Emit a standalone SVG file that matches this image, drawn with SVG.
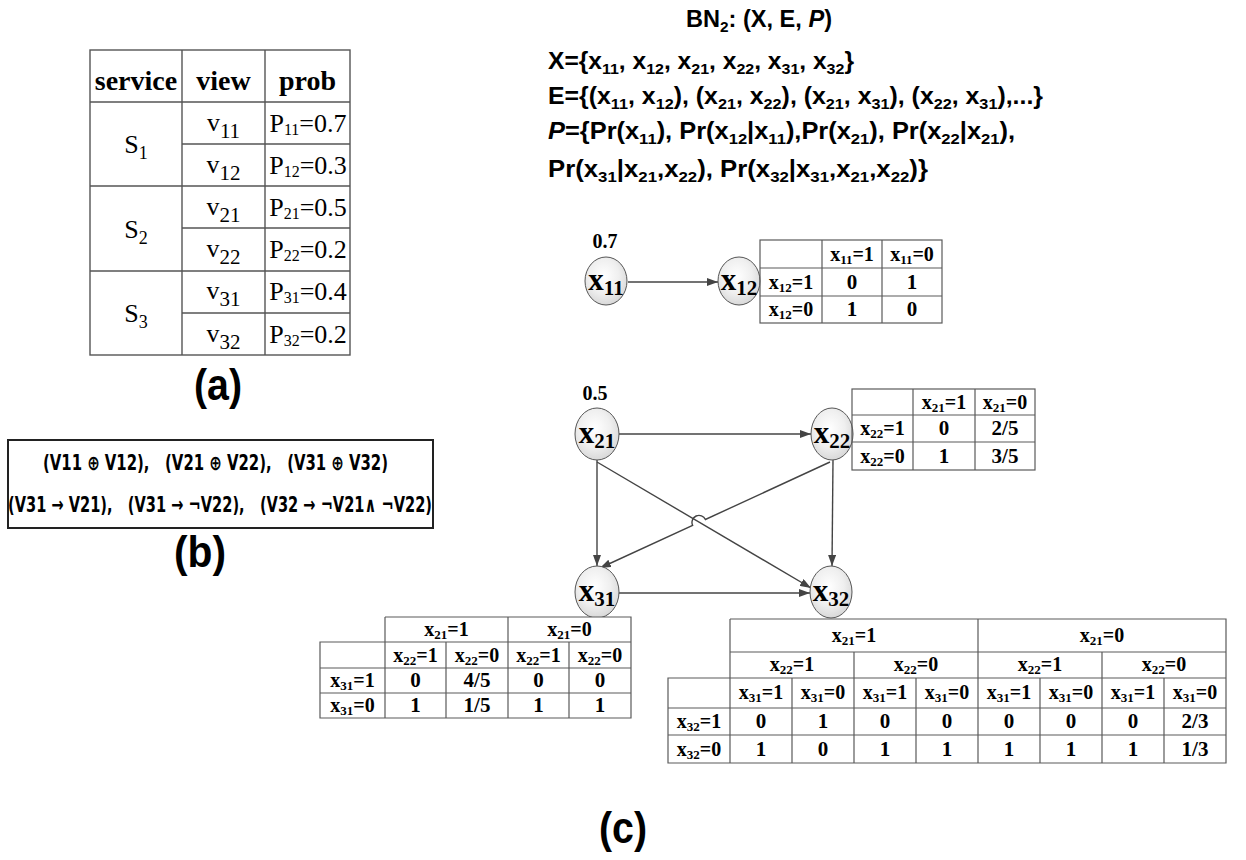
<svg xmlns="http://www.w3.org/2000/svg" width="1246" height="860" viewBox="0 0 1246 860">
  <defs>
    <radialGradient id="ng" cx="0.45" cy="0.4" r="0.65">
      <stop offset="0" stop-color="#ffffff"/>
      <stop offset="0.55" stop-color="#efefef"/>
      <stop offset="1" stop-color="#d4d4d4"/>
    </radialGradient>
    <marker id="arr" viewBox="0 0 11 8" refX="11" refY="4" markerWidth="11" markerHeight="8" markerUnits="userSpaceOnUse" orient="auto">
      <path d="M0,0 L11,4 L0,8 z" fill="#444"/>
    </marker>
    <style>
      .sans { font-family: "Liberation Sans", Arial, "DejaVu Sans", sans-serif; font-weight: bold; fill: #000; }
      .serif { font-family: "Liberation Serif", "Times New Roman", serif; fill: #000; }
      .logic { font-family: "DejaVu Sans", sans-serif; font-weight: bold; font-size: 21px; fill: #000; }
      .hd { font-size: 28px; font-weight: bold; text-anchor: middle; }
      .cell { font-size: 26px; text-anchor: middle; }
      .tb { font-family: "Liberation Serif", "Times New Roman", serif; font-weight: bold; font-size: 20px; text-anchor: middle; fill: #000; }
      .tb .s { font-size: 13px; }
      .num { font-size: 21px; }
      .grid { stroke: #5a5a5a; stroke-width: 1.2; fill: none; }
      .gridA { stroke: #555; stroke-width: 1.4; fill: none; }
      .edge { stroke: #444; stroke-width: 1.4; fill: none; marker-end: url(#arr); }
      .node ellipse { fill: url(#ng); stroke: #555; stroke-width: 1; }
      .nl { font-family: "Liberation Serif", "Times New Roman", serif; font-weight: bold; font-size: 31px; text-anchor: middle; fill: #000; }
      .nl .s { font-size: 21px; }
      .pr { font-family: "Liberation Serif", "Times New Roman", serif; font-weight: bold; font-size: 20px; text-anchor: middle; }
      .lab { font-size: 44px; text-anchor: middle; }
      .top { font-size: 23px; }
      .top .s { font-size: 15px; }
    </style>
  </defs>

  <!-- (a) service / view / probability table -->
  <g id="table-a">
    <rect class="gridA" x="90" y="50" width="260" height="305"/>
    <line class="gridA" x1="90" y1="102" x2="350" y2="102"/>
    <line class="gridA" x1="182" y1="50" x2="182" y2="355"/>
    <line class="gridA" x1="265" y1="50" x2="265" y2="355"/>
    <line class="gridA" x1="90" y1="186" x2="350" y2="186"/>
    <line class="gridA" x1="90" y1="271" x2="350" y2="271"/>
    <line class="gridA" x1="182" y1="144" x2="350" y2="144"/>
    <line class="gridA" x1="182" y1="228" x2="350" y2="228"/>
    <line class="gridA" x1="182" y1="313" x2="350" y2="313"/>
    <text class="serif hd" x="136" y="90">service</text>
    <text class="serif hd" x="223.5" y="90">view</text>
    <text class="serif hd" x="307.5" y="90">prob</text>
    <text class="serif cell" x="136" y="153">S<tspan font-size="18" dy="6">1</tspan></text>
    <text class="serif cell" x="136" y="238">S<tspan font-size="18" dy="6">2</tspan></text>
    <text class="serif cell" x="136" y="322">S<tspan font-size="18" dy="6">3</tspan></text>
    <text class="serif cell" x="223.5" y="131" font-size="29">v<tspan font-size="21" dy="7">11</tspan></text>
    <text class="serif cell" x="223.5" y="173" font-size="29">v<tspan font-size="21" dy="7">12</tspan></text>
    <text class="serif cell" x="223.5" y="215" font-size="29">v<tspan font-size="21" dy="7">21</tspan></text>
    <text class="serif cell" x="223.5" y="257" font-size="29">v<tspan font-size="21" dy="7">22</tspan></text>
    <text class="serif cell" x="223.5" y="299" font-size="29">v<tspan font-size="21" dy="7">31</tspan></text>
    <text class="serif cell" x="223.5" y="342" font-size="29">v<tspan font-size="21" dy="7">32</tspan></text>
    <text class="serif cell" x="308" y="132">P<tspan font-size="16" dy="3">11</tspan><tspan dy="-3">=0.7</tspan></text>
    <text class="serif cell" x="308" y="174">P<tspan font-size="16" dy="3">12</tspan><tspan dy="-3">=0.3</tspan></text>
    <text class="serif cell" x="308" y="216">P<tspan font-size="16" dy="3">21</tspan><tspan dy="-3">=0.5</tspan></text>
    <text class="serif cell" x="308" y="258">P<tspan font-size="16" dy="3">22</tspan><tspan dy="-3">=0.2</tspan></text>
    <text class="serif cell" x="308" y="300">P<tspan font-size="16" dy="3">31</tspan><tspan dy="-3">=0.4</tspan></text>
    <text class="serif cell" x="308" y="343">P<tspan font-size="16" dy="3">32</tspan><tspan dy="-3">=0.2</tspan></text>
  </g>
  <text class="sans lab" x="218" y="400" textLength="48" lengthAdjust="spacingAndGlyphs">(a)</text>

  <!-- (b) constraints box -->
  <g id="constraints-b">
    <rect x="8" y="440" width="425" height="88" fill="none" stroke="#222" stroke-width="2"/>
    <text class="logic" x="43" y="470" xml:space="preserve" textLength="345" lengthAdjust="spacingAndGlyphs">(V11 ⊕ V12),   (V21 ⊕ V22),   (V31 ⊕ V32)</text>
    <text class="logic" x="8" y="512" xml:space="preserve" textLength="424" lengthAdjust="spacingAndGlyphs">(V31 → V21),   (V31 → ¬V22),   (V32 → ¬V21∧ ¬V22)</text>
  </g>
  <text class="sans lab" x="200" y="567" textLength="52" lengthAdjust="spacingAndGlyphs">(b)</text>

  <!-- Bayesian network definition -->
  <g id="bn-definition" class="sans top">
    <text x="686" y="27" textLength="146" lengthAdjust="spacingAndGlyphs">BN<tspan class="s" dy="5">2</tspan><tspan dy="-5">: (X, E, </tspan><tspan font-style="italic">P</tspan>)</text>
    <text x="548" y="69" textLength="306" lengthAdjust="spacingAndGlyphs">X={x<tspan class="s" dy="5">11</tspan><tspan dy="-5">, x</tspan><tspan class="s" dy="5">12</tspan><tspan dy="-5">, x</tspan><tspan class="s" dy="5">21</tspan><tspan dy="-5">, x</tspan><tspan class="s" dy="5">22</tspan><tspan dy="-5">, x</tspan><tspan class="s" dy="5">31</tspan><tspan dy="-5">, x</tspan><tspan class="s" dy="5">32</tspan><tspan dy="-5">}</tspan></text>
    <text x="548" y="104" textLength="495" lengthAdjust="spacingAndGlyphs">E={(x<tspan class="s" dy="5">11</tspan><tspan dy="-5">, x</tspan><tspan class="s" dy="5">12</tspan><tspan dy="-5">), (x</tspan><tspan class="s" dy="5">21</tspan><tspan dy="-5">, x</tspan><tspan class="s" dy="5">22</tspan><tspan dy="-5">), (x</tspan><tspan class="s" dy="5">21</tspan><tspan dy="-5">, x</tspan><tspan class="s" dy="5">31</tspan><tspan dy="-5">), (x</tspan><tspan class="s" dy="5">22</tspan><tspan dy="-5">, x</tspan><tspan class="s" dy="5">31</tspan><tspan dy="-5">),...}</tspan></text>
    <text x="548" y="139" textLength="467" lengthAdjust="spacingAndGlyphs"><tspan font-style="italic">P</tspan>={Pr(x<tspan class="s" dy="5">11</tspan><tspan dy="-5">), Pr(x</tspan><tspan class="s" dy="5">12</tspan><tspan dy="-5">|x</tspan><tspan class="s" dy="5">11</tspan><tspan dy="-5">),Pr(x</tspan><tspan class="s" dy="5">21</tspan><tspan dy="-5">), Pr(x</tspan><tspan class="s" dy="5">22</tspan><tspan dy="-5">|x</tspan><tspan class="s" dy="5">21</tspan><tspan dy="-5">),</tspan></text>
    <text x="548" y="177" textLength="380" lengthAdjust="spacingAndGlyphs">Pr(x<tspan class="s" dy="5">31</tspan><tspan dy="-5">|x</tspan><tspan class="s" dy="5">21</tspan><tspan dy="-5">,x</tspan><tspan class="s" dy="5">22</tspan><tspan dy="-5">), Pr(x</tspan><tspan class="s" dy="5">32</tspan><tspan dy="-5">|x</tspan><tspan class="s" dy="5">31</tspan><tspan dy="-5">,x</tspan><tspan class="s" dy="5">21</tspan><tspan dy="-5">,x</tspan><tspan class="s" dy="5">22</tspan><tspan dy="-5">)}</tspan></text>
  </g>

  <!-- connectors -->
  <g id="connectors">
    <line class="edge" x1="628" y1="282" x2="718" y2="282"/>
    <line class="edge" x1="619" y1="434" x2="811" y2="434"/>
    <line class="edge" x1="597" y1="460" x2="597" y2="566"/>
    <line class="edge" x1="833" y1="460" x2="832" y2="566"/>
    <line class="edge" x1="597" y1="462" x2="811" y2="588"/>
    <path class="edge" d="M830,462 L705.4,519.5 A7,7 0 0 0 692.6,525.3 L600,568"/>
    <line class="edge" x1="619" y1="593" x2="810" y2="593"/>
  </g>

  <!-- nodes -->
  <g id="node-x11" class="node">
    <ellipse cx="606" cy="281" rx="21" ry="24"/>
    <text class="nl" x="606" y="290">x<tspan class="s" dy="5">11</tspan></text>
    <text class="pr" x="605" y="248">0.7</text>
  </g>
  <g id="node-x12" class="node">
    <ellipse cx="739" cy="281" rx="21" ry="24"/>
    <text class="nl" x="739" y="290">x<tspan class="s" dy="5">12</tspan></text>
  </g>
  <g id="node-x21" class="node">
    <ellipse cx="597" cy="434" rx="22" ry="26"/>
    <text class="nl" x="597" y="443">x<tspan class="s" dy="5">21</tspan></text>
    <text class="pr" x="595" y="400">0.5</text>
  </g>
  <g id="node-x22" class="node">
    <ellipse cx="832" cy="434" rx="21" ry="26"/>
    <text class="nl" x="832" y="443">x<tspan class="s" dy="5">22</tspan></text>
  </g>
  <g id="node-x31" class="node">
    <ellipse cx="597" cy="592" rx="22" ry="26"/>
    <text class="nl" x="597" y="601">x<tspan class="s" dy="5">31</tspan></text>
  </g>
  <g id="node-x32" class="node">
    <ellipse cx="831" cy="592" rx="21" ry="26"/>
    <text class="nl" x="831" y="601">x<tspan class="s" dy="5">32</tspan></text>
  </g>

  <!-- CPT of x12 -->
  <g id="cpt-x12">
    <rect class="grid" x="760" y="240" width="182" height="83" fill="#fff"/>
    <line class="grid" x1="760" y1="268" x2="942" y2="268"/>
    <line class="grid" x1="760" y1="296" x2="942" y2="296"/>
    <line class="grid" x1="822" y1="240" x2="822" y2="323"/>
    <line class="grid" x1="882" y1="240" x2="882" y2="323"/>
    <text class="tb" x="852" y="261">x<tspan class="s" dy="3">11</tspan><tspan dy="-3">=1</tspan></text>
    <text class="tb" x="912" y="261">x<tspan class="s" dy="3">11</tspan><tspan dy="-3">=0</tspan></text>
    <text class="tb" x="791" y="289">x<tspan class="s" dy="3">12</tspan><tspan dy="-3">=1</tspan></text>
    <text class="tb" x="791" y="316">x<tspan class="s" dy="3">12</tspan><tspan dy="-3">=0</tspan></text>
    <text class="tb num" x="852" y="289">0</text>
    <text class="tb num" x="912" y="289">1</text>
    <text class="tb num" x="852" y="316">1</text>
    <text class="tb num" x="912" y="316">0</text>
  </g>

  <!-- CPT of x22 -->
  <g id="cpt-x22">
    <rect class="grid" x="852" y="389" width="183" height="81" fill="#fff"/>
    <line class="grid" x1="852" y1="415" x2="1035" y2="415"/>
    <line class="grid" x1="852" y1="442" x2="1035" y2="442"/>
    <line class="grid" x1="913" y1="389" x2="913" y2="470"/>
    <line class="grid" x1="975" y1="389" x2="975" y2="470"/>
    <text class="tb" x="944" y="409">x<tspan class="s" dy="3">21</tspan><tspan dy="-3">=1</tspan></text>
    <text class="tb" x="1005" y="409">x<tspan class="s" dy="3">21</tspan><tspan dy="-3">=0</tspan></text>
    <text class="tb" x="882.5" y="435">x<tspan class="s" dy="3">22</tspan><tspan dy="-3">=1</tspan></text>
    <text class="tb" x="882.5" y="463">x<tspan class="s" dy="3">22</tspan><tspan dy="-3">=0</tspan></text>
    <text class="tb num" x="944" y="435">0</text>
    <text class="tb num" x="1005" y="435">2/5</text>
    <text class="tb num" x="944" y="463">1</text>
    <text class="tb num" x="1005" y="463">3/5</text>
  </g>

  <!-- CPT of x31 -->
  <g id="cpt-x31">
    <rect x="320" y="617" width="311" height="101" fill="#fff" stroke="none"/>
    <path class="grid" d="M385,617 H631 V718 H320 V642 H631 M320,668 H631 M320,693 H631 M385,617 V718 M446,642 V718 M508,617 V718 M569,642 V718"/>
    <text class="tb" x="446.5" y="636">x<tspan class="s" dy="3">21</tspan><tspan dy="-3">=1</tspan></text>
    <text class="tb" x="569.5" y="636">x<tspan class="s" dy="3">21</tspan><tspan dy="-3">=0</tspan></text>
    <text class="tb" x="415.5" y="662">x<tspan class="s" dy="3">22</tspan><tspan dy="-3">=1</tspan></text>
    <text class="tb" x="477" y="662">x<tspan class="s" dy="3">22</tspan><tspan dy="-3">=0</tspan></text>
    <text class="tb" x="538.5" y="662">x<tspan class="s" dy="3">22</tspan><tspan dy="-3">=1</tspan></text>
    <text class="tb" x="600" y="662">x<tspan class="s" dy="3">22</tspan><tspan dy="-3">=0</tspan></text>
    <text class="tb" x="352.5" y="687">x<tspan class="s" dy="3">31</tspan><tspan dy="-3">=1</tspan></text>
    <text class="tb" x="352.5" y="712">x<tspan class="s" dy="3">31</tspan><tspan dy="-3">=0</tspan></text>
    <text class="tb num" x="415.5" y="687">0</text>
    <text class="tb num" x="477" y="687">4/5</text>
    <text class="tb num" x="538.5" y="687">0</text>
    <text class="tb num" x="600" y="687">0</text>
    <text class="tb num" x="415.5" y="712">1</text>
    <text class="tb num" x="477" y="712">1/5</text>
    <text class="tb num" x="538.5" y="712">1</text>
    <text class="tb num" x="600" y="712">1</text>
  </g>

  <!-- CPT of x32 -->
  <g id="cpt-x32">
    <rect x="668" y="619" width="558" height="144" fill="#fff" stroke="none"/>
    <path class="grid" d="M730,619 H1226 V763 H668 V678 H1226 M730,652 H1226 M668,708 H1226 M668,735 H1226 M730,619 V763 M978,619 V763 M854,652 V763 M1102,652 V763 M792,678 V763 M916,678 V763 M1040,678 V763 M1164,678 V763"/>
    <text class="tb" x="854" y="642">x<tspan class="s" dy="3">21</tspan><tspan dy="-3">=1</tspan></text>
    <text class="tb" x="1102" y="642">x<tspan class="s" dy="3">21</tspan><tspan dy="-3">=0</tspan></text>
    <text class="tb" x="792" y="671">x<tspan class="s" dy="3">22</tspan><tspan dy="-3">=1</tspan></text>
    <text class="tb" x="916" y="671">x<tspan class="s" dy="3">22</tspan><tspan dy="-3">=0</tspan></text>
    <text class="tb" x="1040" y="671">x<tspan class="s" dy="3">22</tspan><tspan dy="-3">=1</tspan></text>
    <text class="tb" x="1164" y="671">x<tspan class="s" dy="3">22</tspan><tspan dy="-3">=0</tspan></text>
    <text class="tb" x="761" y="699">x<tspan class="s" dy="3">31</tspan><tspan dy="-3">=1</tspan></text>
    <text class="tb" x="823" y="699">x<tspan class="s" dy="3">31</tspan><tspan dy="-3">=0</tspan></text>
    <text class="tb" x="885" y="699">x<tspan class="s" dy="3">31</tspan><tspan dy="-3">=1</tspan></text>
    <text class="tb" x="947" y="699">x<tspan class="s" dy="3">31</tspan><tspan dy="-3">=0</tspan></text>
    <text class="tb" x="1009" y="699">x<tspan class="s" dy="3">31</tspan><tspan dy="-3">=1</tspan></text>
    <text class="tb" x="1071" y="699">x<tspan class="s" dy="3">31</tspan><tspan dy="-3">=0</tspan></text>
    <text class="tb" x="1133" y="699">x<tspan class="s" dy="3">31</tspan><tspan dy="-3">=1</tspan></text>
    <text class="tb" x="1195" y="699">x<tspan class="s" dy="3">31</tspan><tspan dy="-3">=0</tspan></text>
    <text class="tb" x="699" y="728">x<tspan class="s" dy="3">32</tspan><tspan dy="-3">=1</tspan></text>
    <text class="tb" x="699" y="756">x<tspan class="s" dy="3">32</tspan><tspan dy="-3">=0</tspan></text>
    <g class="tb num">
      <text x="761" y="728">0</text><text x="823" y="728">1</text><text x="885" y="728">0</text><text x="947" y="728">0</text>
      <text x="1009" y="728">0</text><text x="1071" y="728">0</text><text x="1133" y="728">0</text><text x="1195" y="728">2/3</text>
      <text x="761" y="756">1</text><text x="823" y="756">0</text><text x="885" y="756">1</text><text x="947" y="756">1</text>
      <text x="1009" y="756">1</text><text x="1071" y="756">1</text><text x="1133" y="756">1</text><text x="1195" y="756">1/3</text>
    </g>
  </g>

  <text class="sans lab" x="623" y="843" textLength="48" lengthAdjust="spacingAndGlyphs">(c)</text>
</svg>
